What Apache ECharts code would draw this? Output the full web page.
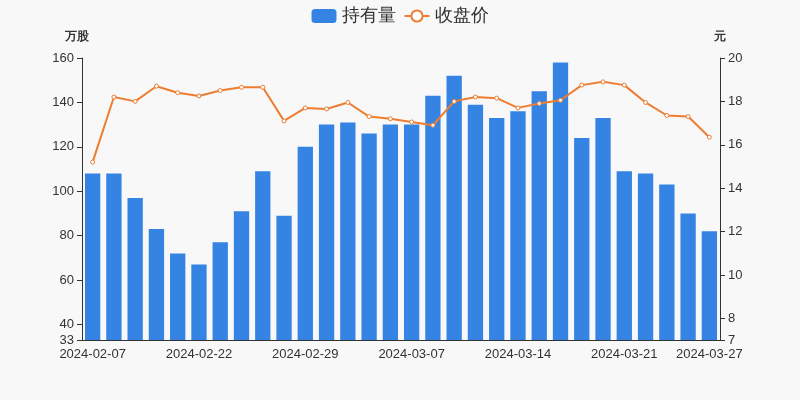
<!DOCTYPE html>
<html><head><meta charset="utf-8">
<script src="https://cdn.jsdelivr.net/npm/echarts@6/dist/echarts.min.js"></script>
<style>html,body{margin:0;background:#f8f8f8}#c{width:800px;height:400px}</style>
</head><body><div id="c"></div>
<script>
const categories=['2024-02-07','2024-02-08','2024-02-19','2024-02-20','2024-02-21','2024-02-22','2024-02-23','2024-02-26','2024-02-27','2024-02-28','2024-02-29','2024-03-01','2024-03-04','2024-03-05','2024-03-06','2024-03-07','2024-03-08','2024-03-11','2024-03-12','2024-03-13','2024-03-14','2024-03-15','2024-03-18','2024-03-19','2024-03-20','2024-03-21','2024-03-22','2024-03-25','2024-03-26','2024-03-27'];
const holdings=[108,108,97,83,72,67,77,91,109,89,120,130,131,126,130,130,143,152,139,133,136,145,158,124,133,109,108,103,90,82];
const prices=[15.2,18.2,18.0,18.7,18.4,18.25,18.5,18.65,18.65,17.1,17.7,17.65,17.95,17.3,17.2,17.05,16.9,18.0,18.2,18.15,17.7,17.9,18.05,18.75,18.9,18.75,17.95,17.35,17.3,16.35];
const leftTicks=[33,40,60,80,100,120,140,160];
const rightTicks=[7,8,10,12,14,16,18,20];
const ch=echarts.init(document.getElementById('c'));
ch.setOption({
 backgroundColor:'#f8f8f8',
 legend:{top:2,itemWidth:25,itemHeight:14,textStyle:{fontSize:18,color:'#333'},data:[{name:'持有量',icon:'roundRect'},{name:'收盘价'}]},
 grid:{left:82,right:80,top:58,bottom:60},
 xAxis:{type:'category',data:categories,axisTick:{show:false},axisLine:{lineStyle:{color:'#333'}},
  axisLabel:{fontSize:13,color:'#333',interval:(i)=>i%5===0||i===29}},
 yAxis:[
  {type:'value',name:'万股',min:33,max:160,nameTextStyle:{fontWeight:'bold',color:'#333',padding:[0,10,0,0]},splitLine:{show:false},
   axisLine:{show:true,lineStyle:{color:'#333'}},axisTick:{show:true,customValues:leftTicks},axisLabel:{fontSize:13,color:'#333',customValues:leftTicks}},
  {type:'value',name:'元',min:7,max:20,nameTextStyle:{fontWeight:'bold',color:'#333',padding:[0,0,0,0]},splitLine:{show:false},
   axisLine:{show:true,lineStyle:{color:'#333'}},axisTick:{show:true,customValues:rightTicks},axisLabel:{fontSize:13,color:'#333',customValues:rightTicks}}
 ],
 series:[
  {name:'持有量',type:'bar',data:holdings,barWidth:'72%',itemStyle:{color:'#3584e4'}},
  {name:'收盘价',type:'line',yAxisIndex:1,data:prices,symbol:'circle',symbolSize:4,itemStyle:{color:'#fff',borderColor:'#ed7d31',borderWidth:1},lineStyle:{color:'#ed7d31',width:2}}
 ]
});
</script></body></html>
